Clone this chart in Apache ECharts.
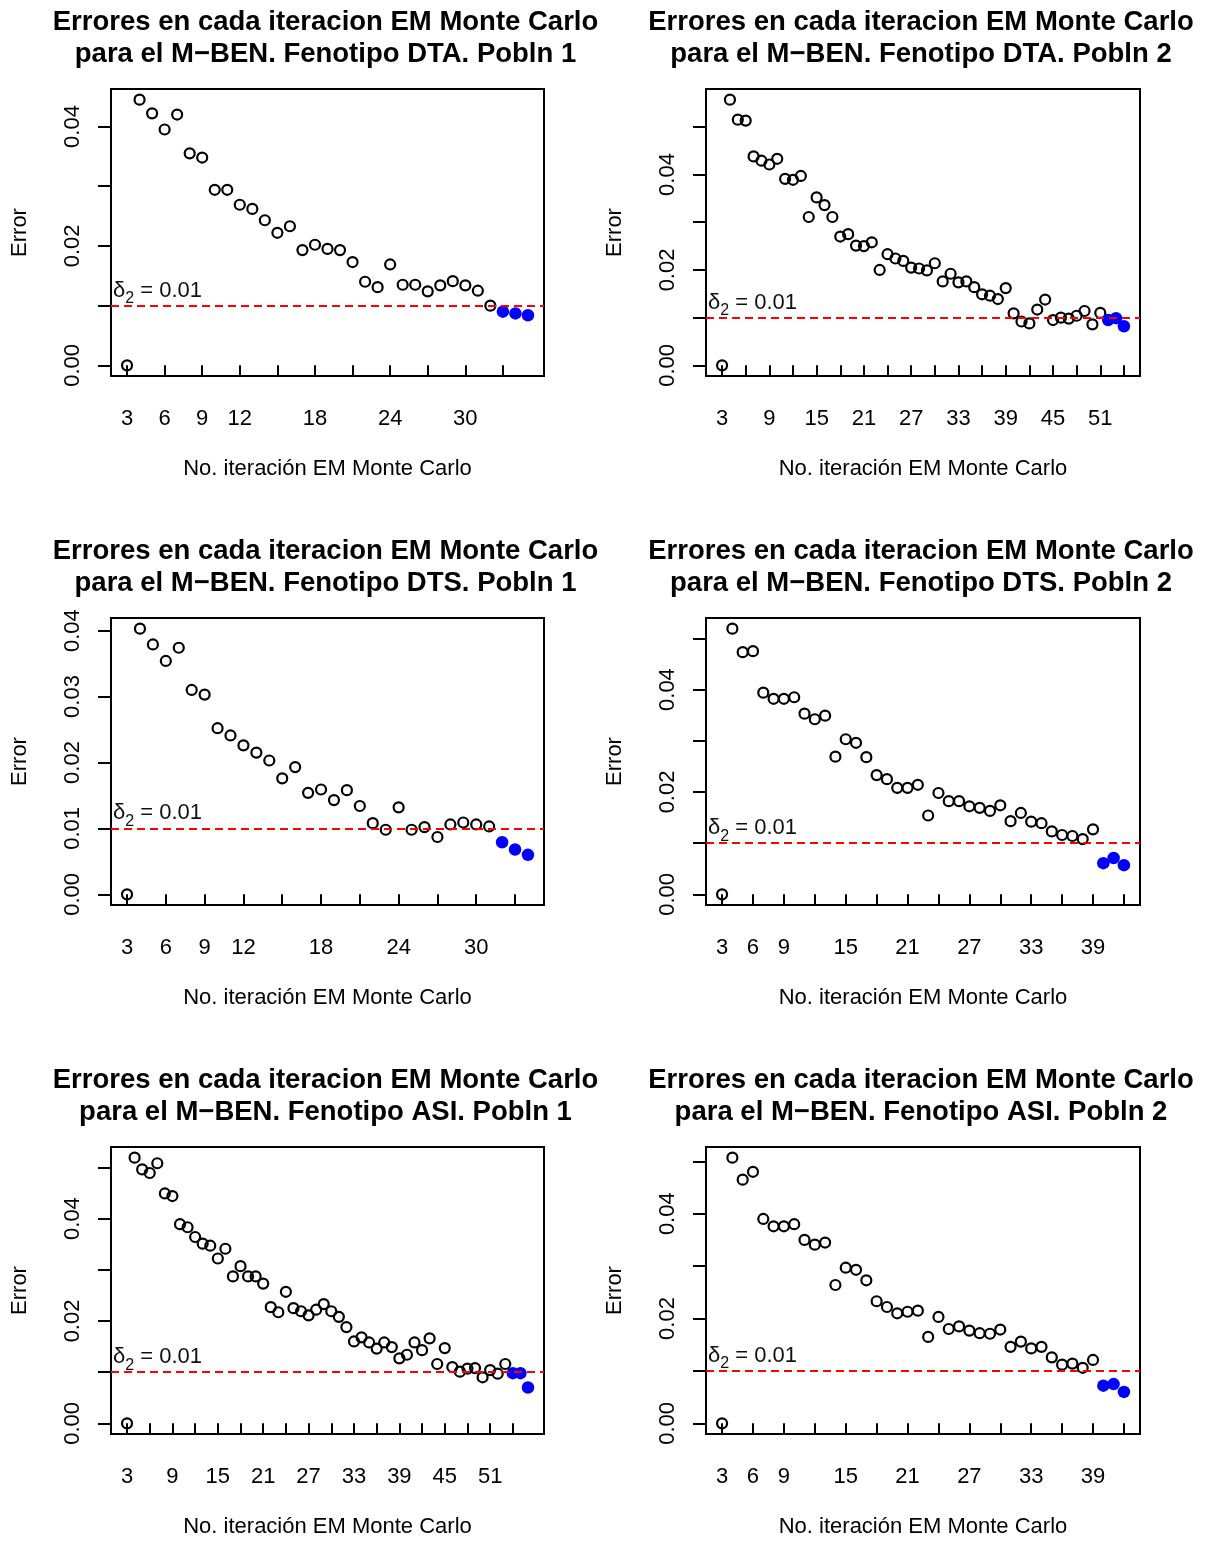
<!DOCTYPE html>
<html>
<head>
<meta charset="utf-8">
<script src="https://cdn.jsdelivr.net/npm/echarts@6/dist/echarts.min.js"></script>
<style>
  html, body { margin: 0; padding: 0; background: #ffffff; }
  #chart { width: 1205px; height: 1541px; }
</style>
</head>
<body>
<div id="chart"></div>
<script>
// Monte Carlo EM convergence errors for the M-BEN model, per phenotype and population.
const firstIteration = 3;      // iterations are numbered from 3 onwards
const xTickStep = 3;
const yTickStep = 0.01;
const highlightedCount = 3;    // final iterations drawn as solid blue dots
const threshold = 0.01;        // delta_2 stopping tolerance

const titleLine1 = 'Errores en cada iteracion EM Monte Carlo';
const titlesLine2 = [
  'para el M\u2212BEN. Fenotipo DTA. Pobln 1',
  'para el M\u2212BEN. Fenotipo DTA. Pobln 2',
  'para el M\u2212BEN. Fenotipo DTS. Pobln 1',
  'para el M\u2212BEN. Fenotipo DTS. Pobln 2',
  'para el M\u2212BEN. Fenotipo ASI. Pobln 1',
  'para el M\u2212BEN. Fenotipo ASI. Pobln 2'
];
const xAxisName = 'No. iteración EM Monte Carlo';
const yAxisName = 'Error';

// errors per iteration (iteration 3, 4, 5, ...)
const errorsDTA1 = [0, 0.0445, 0.0422, 0.0395, 0.0420, 0.0355, 0.0348, 0.0294, 0.0294, 0.0269, 0.0262,
  0.0243, 0.0222, 0.0233, 0.0193, 0.0202, 0.0195, 0.0193, 0.0173, 0.0140, 0.0131, 0.0169, 0.0135,
  0.0135, 0.0124, 0.0134, 0.0141, 0.0134, 0.0125, 0.0100, 0.0090, 0.0087, 0.0084];
const errorsDTA2 = [0, 0.0557, 0.0515, 0.0513, 0.0438, 0.0429, 0.0421, 0.0433, 0.0391, 0.0389, 0.0397,
  0.0311, 0.0352, 0.0336, 0.0311, 0.0270, 0.0275, 0.0251, 0.0250, 0.0258, 0.0200, 0.0233, 0.0224,
  0.0219, 0.0205, 0.0203, 0.0199, 0.0214, 0.0176, 0.0192, 0.0174, 0.0176, 0.0164, 0.0149, 0.0146,
  0.0139, 0.0162, 0.0109, 0.0092, 0.0088, 0.0117, 0.0138, 0.0095, 0.0100, 0.0098, 0.0104, 0.0114,
  0.0086, 0.0110, 0.0095, 0.0099, 0.0082];
const errorsDTS1 = [0, 0.0403, 0.0379, 0.0354, 0.0374, 0.0310, 0.0303, 0.0252, 0.0241, 0.0226, 0.0215,
  0.0203, 0.0176, 0.0193, 0.0154, 0.0159, 0.0143, 0.0158, 0.0134, 0.0108, 0.0098, 0.0132, 0.0098,
  0.0102, 0.0087, 0.0106, 0.0109, 0.0106, 0.0103, 0.0079, 0.0068, 0.0060];
const errorsDTS2 = [0, 0.0519, 0.0473, 0.0475, 0.0394, 0.0382, 0.0382, 0.0385, 0.0353, 0.0342, 0.0349,
  0.0269, 0.0303, 0.0296, 0.0268, 0.0233, 0.0225, 0.0208, 0.0208, 0.0214, 0.0154, 0.0198, 0.0182,
  0.0182, 0.0172, 0.0169, 0.0163, 0.0174, 0.0143, 0.0159, 0.0142, 0.0139, 0.0123, 0.0116, 0.0114,
  0.0108, 0.0127, 0.0061, 0.0071, 0.0057];
const errorsASI1 = [0, 0.0519, 0.0496, 0.0489, 0.0508, 0.0449, 0.0444, 0.0389, 0.0383, 0.0364, 0.0351,
  0.0347, 0.0322, 0.0341, 0.0287, 0.0307, 0.0287, 0.0287, 0.0273, 0.0227, 0.0217, 0.0257, 0.0225,
  0.0219, 0.0211, 0.0222, 0.0233, 0.0219, 0.0208, 0.0188, 0.0160, 0.0168, 0.0158, 0.0146, 0.0158,
  0.0149, 0.0127, 0.0134, 0.0158, 0.0143, 0.0166, 0.0116, 0.0147, 0.0110, 0.0101, 0.0107, 0.0108,
  0.0090, 0.0104, 0.0097, 0.0116, 0.0098, 0.0098, 0.0070];
const errorsASI2 = [0, 0.0507, 0.0465, 0.0480, 0.0390, 0.0376, 0.0376, 0.0380, 0.0350, 0.0341, 0.0345,
  0.0264, 0.0297, 0.0293, 0.0273, 0.0233, 0.0222, 0.0210, 0.0213, 0.0215, 0.0165, 0.0203, 0.0180,
  0.0185, 0.0177, 0.0172, 0.0171, 0.0179, 0.0146, 0.0156, 0.0143, 0.0146, 0.0126, 0.0112, 0.0114,
  0.0106, 0.0121, 0.0072, 0.0075, 0.0060];

// labelled ticks (the remaining ticks are drawn unlabelled)
const xLabelsDTA1 = [3, 6, 9, 12, 18, 24, 30];
const xLabelsDTA2 = [3, 9, 15, 21, 27, 33, 39, 45, 51];
const xLabelsDTS1 = [3, 6, 9, 12, 18, 24, 30];
const xLabelsDTS2 = [3, 6, 9, 15, 21, 27, 33, 39];
const xLabelsASI1 = [3, 9, 15, 21, 27, 33, 39, 45, 51];
const xLabelsASI2 = [3, 6, 9, 15, 21, 27, 33, 39];
const yLabelsDTA1 = [0, 0.02, 0.04];
const yLabelsDTA2 = [0, 0.02, 0.04];
const yLabelsDTS1 = [0, 0.01, 0.02, 0.03, 0.04];
const yLabelsDTS2 = [0, 0.02, 0.04];
const yLabelsASI1 = [0, 0.02, 0.04];
const yLabelsASI2 = [0, 0.02, 0.04];

const panels = [
  { subtitle: titlesLine2[0], errors: errorsDTA1, xLabels: xLabelsDTA1, yLabels: yLabelsDTA1 },
  { subtitle: titlesLine2[1], errors: errorsDTA2, xLabels: xLabelsDTA2, yLabels: yLabelsDTA2 },
  { subtitle: titlesLine2[2], errors: errorsDTS1, xLabels: xLabelsDTS1, yLabels: yLabelsDTS1 },
  { subtitle: titlesLine2[3], errors: errorsDTS2, xLabels: xLabelsDTS2, yLabels: yLabelsDTS2 },
  { subtitle: titlesLine2[4], errors: errorsASI1, xLabels: xLabelsASI1, yLabels: yLabelsASI1 },
  { subtitle: titlesLine2[5], errors: errorsASI2, xLabels: xLabelsASI2, yLabels: yLabelsASI2 }
];

const FONT = '"Liberation Sans", Arial, Helvetica, sans-serif';
const colLeft = [111, 706];
const colWidth = [433, 434];
const rowTop = [89, 618, 1147];
const plotHeight = 287;

// axis range padded by 4% on each side
function paddedRange(lo, hi) {
  const pad = (hi - lo) * 0.04;
  return [lo - pad, hi + pad];
}

const option = {
  animation: false,
  backgroundColor: '#ffffff',
  title: [], grid: [], xAxis: [], yAxis: [], series: []
};

panels.forEach((p, i) => {
  const col = i % 2, row = Math.floor(i / 2);
  const points = p.errors.map((e, k) => [firstIteration + k, e]);
  const lastIter = points[points.length - 1][0];
  const xr = paddedRange(firstIteration, lastIter);
  const yr = paddedRange(Math.min(...p.errors), Math.max(...p.errors));

  const xTicks = [];
  for (let v = firstIteration; v <= lastIter; v += xTickStep) xTicks.push(v);
  const yTicks = [];
  for (let k = 0; k * yTickStep <= yr[1]; k++) yTicks.push(+(k * yTickStep).toFixed(2));

  const left = colLeft[col], width = colWidth[col], top = rowTop[row];

  option.title.push({
    text: titleLine1 + '\n' + p.subtitle,
    left: left + width / 2 - 2,
    top: top - 83,
    textAlign: 'center',
    padding: 0,
    textStyle: { fontFamily: FONT, fontSize: 27.5, fontWeight: 'bold', lineHeight: 32, color: '#000' }
  });

  option.grid.push({
    left: left, top: top, width: width, height: plotHeight,
    show: true, borderColor: '#000', borderWidth: 2, backgroundColor: 'transparent'
  });

  option.xAxis.push({
    type: 'value', gridIndex: i, min: xr[0], max: xr[1], offset: 2,
    axisLine: { show: false }, splitLine: { show: false },
    axisTick: { show: true, length: 11, customValues: xTicks, lineStyle: { color: '#000', width: 2 } },
    axisLabel: { customValues: p.xLabels, margin: 30, fontFamily: FONT, fontSize: 22, color: '#000' },
    name: xAxisName, nameLocation: 'middle', nameGap: 80,
    nameTextStyle: { fontFamily: FONT, fontSize: 22, color: '#000' }
  });

  option.yAxis.push({
    type: 'value', gridIndex: i, min: yr[0], max: yr[1],
    axisLine: { show: false }, splitLine: { show: false },
    axisTick: { show: true, length: 13, customValues: yTicks, lineStyle: { color: '#000', width: 2 } },
    axisLabel: {
      customValues: p.yLabels, rotate: 90, margin: 27,
      formatter: v => v.toFixed(2),
      fontFamily: FONT, fontSize: 22, color: '#000'
    },
    name: yAxisName, nameLocation: 'middle', nameGap: 80,
    nameTextStyle: { fontFamily: FONT, fontSize: 22, color: '#000' }
  });

  const cut = points.length - highlightedCount;
  option.series.push({
    type: 'scatter', xAxisIndex: i, yAxisIndex: i, silent: true,
    data: points.slice(0, cut),
    symbol: 'circle', symbolSize: 10,
    itemStyle: { color: 'rgba(0,0,0,0)', borderColor: '#000', borderWidth: 2.2, opacity: 1 },
    markLine: {
      silent: true, symbol: ['none', 'none'],
      data: [{ yAxis: threshold }],
      lineStyle: { color: '#ff0000', type: [8, 5], width: 1.8, opacity: 1 },
      label: {
        show: true, position: 'insideStartTop', distance: [2, -1],
        formatter: '{d|\u03b4}{s|2}{d| = ' + threshold.toFixed(2) + '}',
        rich: {
          d: { fontFamily: FONT, fontSize: 22, color: '#111', verticalAlign: 'bottom', padding: [0, 0, 5, 0] },
          s: { fontFamily: FONT, fontSize: 16, color: '#111', verticalAlign: 'bottom' }
        }
      }
    }
  });
  option.series.push({
    type: 'scatter', xAxisIndex: i, yAxisIndex: i, silent: true,
    data: points.slice(cut),
    symbol: 'circle', symbolSize: 12.5,
    itemStyle: { color: '#0000ff', opacity: 1 }
  });
});

const chart = echarts.init(document.getElementById('chart'), null, { renderer: 'canvas' });
chart.setOption(option);
</script>
</body>
</html>
